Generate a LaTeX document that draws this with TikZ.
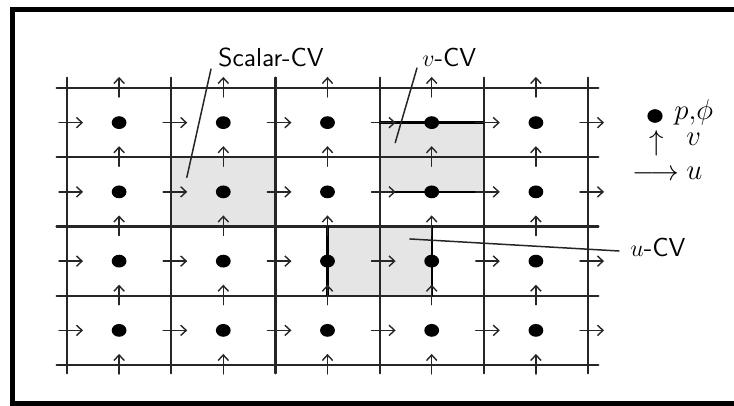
\documentclass[tikz,border=0pt,12pt]{standalone}
\usepackage{amsmath,amssymb}
\usetikzlibrary{arrows.meta}

\begin{document}
\begin{tikzpicture}[x=0.5pt,y=-0.5pt,line cap=round,
  font=\fontsize{13}{15}\selectfont,
  >={Straight Barb[length=2.8pt,width=5.2pt]},
  gridline/.style={black!85,line width=1.1pt},
  cvedge/.style={black,line width=1.15pt},
  cvfill/.style={fill=gray!20},
  flux/.style={->,black!85,line width=0.7pt},
  leader/.style={black!85,line width=0.75pt},
  lbl/.style={inner sep=0pt,font=\fontsize{13}{15}\selectfont\sffamily},
  legend/.style={inner sep=0pt,font=\fontsize{15}{17}\selectfont}]
\useasboundingbox (0,0) rectangle (734,406);
\clip (0,0) rectangle (734,406);
\draw[line width=2.5pt] (12.5,9.5) rectangle (760,404);
% staggered grid: one unit = one cell
\begin{scope}[shift={(67,88)},x=52.1pt,y=-34.625pt]
\fill[cvfill] (1,1) rectangle (2,2);
\fill[cvfill] (3,0.5) rectangle (4,1.5);
\fill[cvfill] (2.5,2) rectangle (3.5,3);
\foreach \i in {0,...,5} \draw[gridline] (\i,-0.15) -- (\i,4.12);
\foreach \j in {0,...,4} \draw[gridline] (-0.1,\j) -- (5.1,\j);
\draw[cvedge] (3,0.5) -- (4,0.5) (3,1.5) -- (4,1.5);
\draw[cvedge] (2.5,2) -- (2.5,3) (3.5,2) -- (3.5,3);
% u on vertical faces, v on horizontal faces
\foreach \i in {0,...,5} \foreach \j in {0,...,3}
  \draw[flux] (\i-0.077,\j+0.5) -- (\i+0.154,\j+0.5);
\foreach \i in {0,...,4} \foreach \j in {0,...,4}
  \draw[flux] (\i+0.5,\j+0.13) -- (\i+0.5,\j-0.16);
\foreach \i in {0,...,4} \foreach \j in {0,...,3}
  \fill (\i+0.5,\j+0.5) ellipse [x radius=3.7pt,y radius=3.2pt];
\coordinate (scalarpt) at (1.15,1.29);
\coordinate (vpt) at (3.15,0.79);
\coordinate (upt) at (3.29,2.18);
\end{scope}
% control volume labels
\node[lbl,anchor=south west] (scalarcv) at (218,67) {Scalar-CV};
\node[lbl,anchor=south west] (vcv) at (422,67) {$v$-CV};
\node[lbl,anchor=west] (ucv) at (630,247) {$u$-CV};
\draw[leader] ([shift={(-7,2)}]scalarcv.south west) -- (scalarpt);
\draw[leader] ([shift={(-5,1)}]vcv.south west) -- (vpt);
\draw[leader] (upt) -- ([shift={(-11,4)}]ucv.west);
% legend
\fill (655,116) ellipse [x radius=3.8pt,y radius=3.4pt];
\node[legend,anchor=base west] (pphi) at (674,120) {$p{,}\phi$};
\node[legend] (vsym) at (657,143) {$\uparrow$};
\node[legend,anchor=base west] (vname) at (686,146) {$v$};
\node[legend] (usym) at (656,175) {$\longrightarrow$};
\node[legend,anchor=base west] (uname) at (686,180) {$u$};
\end{tikzpicture}
\end{document}
